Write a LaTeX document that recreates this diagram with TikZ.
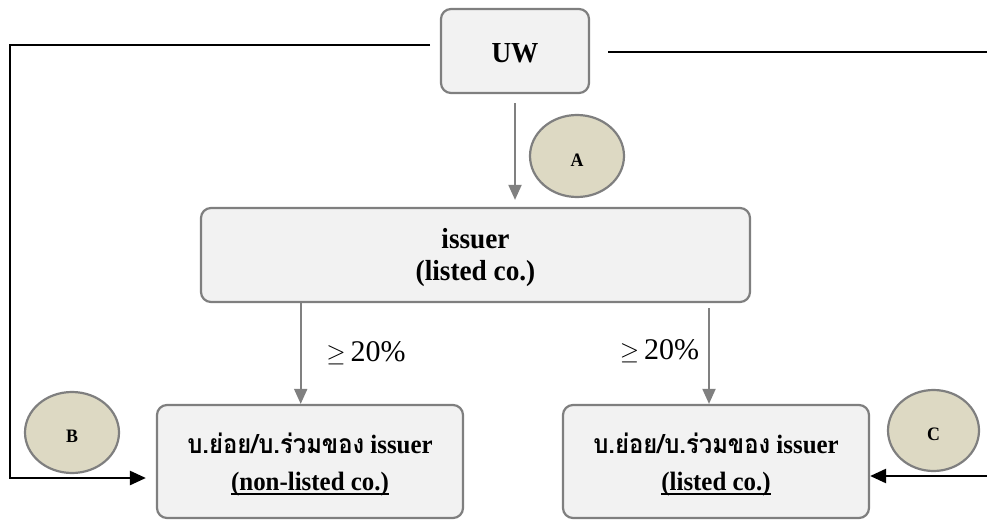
\documentclass[tikz,border=0pt]{standalone}
\usepackage{fontspec}
\setmainfont{Liberation Serif}
\newfontfamily\condserif[FakeStretch=0.94]{Liberation Serif}
\newfontfamily\thaifont[Script=Thai,FakeStretch=0.9]{Loma}
\usetikzlibrary{arrows.meta,shapes.geometric}

\definecolor{boxfill}{HTML}{F2F2F2}
\definecolor{boxline}{HTML}{7F7F7F}
\definecolor{discfill}{HTML}{DDD9C3}
\definecolor{flowgray}{HTML}{808080}

% underline sitting just under the baseline
\newcommand{\baseul}[1]{{\setbox0\hbox{#1}\rlap{\rule[-4.6pt]{\wd0}{1.5pt}}\box0}}

\tikzset{
  party/.style={draw=boxline, line width=2.2pt, fill=boxfill, rounded corners=10pt,
    inner sep=0pt},
  word/.style={inner sep=0pt, anchor=base},
  bigword/.style={word, font=\condserif\fontsize{29}{32}\selectfont\bfseries},
  subword/.style={word, font=\condserif\fontsize{26.5}{30}\selectfont\bfseries},
  disc/.style={ellipse, draw=boxline, line width=2.2pt, fill=discfill, inner sep=0pt,
    text height=20.6pt, text depth=0pt,
    font=\condserif\fontsize{19}{20}\selectfont\bfseries},
  share/.style={draw=flowgray, line width=2pt, -{Triangle[length=15pt,width=13pt]}},
  link/.style={draw=black, line width=2.5pt},
  linkarrow/.style={link, -{Triangle[length=16pt,width=14pt]}},
  pct/.style={inner sep=0pt, font=\fontsize{30}{32}\selectfont},
}

\begin{document}
\begin{tikzpicture}[x=1pt,y=1pt]
\useasboundingbox (0,0) rectangle (987,520);

% parties
\node[party, minimum width=148pt, minimum height=84pt] (uw) at (515,469) {};
\node[bigword] (uwText) at (515,457) {UW};

\node[party, minimum width=549pt, minimum height=94pt] (issuer) at (475.5,265) {};
\node[bigword] (issuerName) at (475.5,272) {issuer};
\node[bigword] (issuerNote) at (475.5,240) {(listed co.)};

\node[party, minimum width=306pt, minimum height=113pt] (subA) at (310,58.5) {};
\node[subword] (subAName) at (310,67) {{\thaifont บ.ย่อย/บ.ร่วมของ} issuer};
\node[subword] (subANote) at (310,30) {\baseul{(non-listed co.)}};

\node[party, minimum width=306pt, minimum height=113pt] (subB) at (716,58.5) {};
\node[subword] (subBName) at (716,67) {{\thaifont บ.ย่อย/บ.ร่วมของ} issuer};
\node[subword] (subBNote) at (716,30) {\baseul{(listed co.)}};

% markers
\node[disc, minimum width=94pt, minimum height=82pt] (mA) at (577,364) {A};
\node[disc, minimum width=94pt, minimum height=81pt] (mB) at (72,87.5) {B};
\node[disc, minimum width=91pt, minimum height=81pt] (mC) at (933.5,89.5) {C};

% shareholding arrows
\draw[share] ([yshift=-9pt]uw.south) -- ([yshift=7pt]issuer.north -| uw.south);
\draw[share] (issuer.south -| 300.7,0) -- (subA.north -| 300.7,0);
\draw[share] ([yshift=-5pt]issuer.south -| 709,0) -- (subB.north -| 709,0);

\node[pct] (pctA) at (366,167) {$\geq$\,20\%};
\node[pct] (pctB) at (659.5,169) {$\geq$\,20\%};

% underwriter links
\coordinate (uwL) at (430,475);
\coordinate (cornerL) at (10,475);
\coordinate (uwR) at (608,468);
\coordinate (edgeR) at (987,468);
\coordinate (edgeC) at (987,44);

\draw[linkarrow] (uwL) -- (cornerL) |- ([xshift=-10pt,yshift=-16.5pt]subA.west);
\draw[link] (uwR) -- (edgeR);
\draw[linkarrow] (edgeC) -- (edgeC -| subB.east);
\end{tikzpicture}
\end{document}
